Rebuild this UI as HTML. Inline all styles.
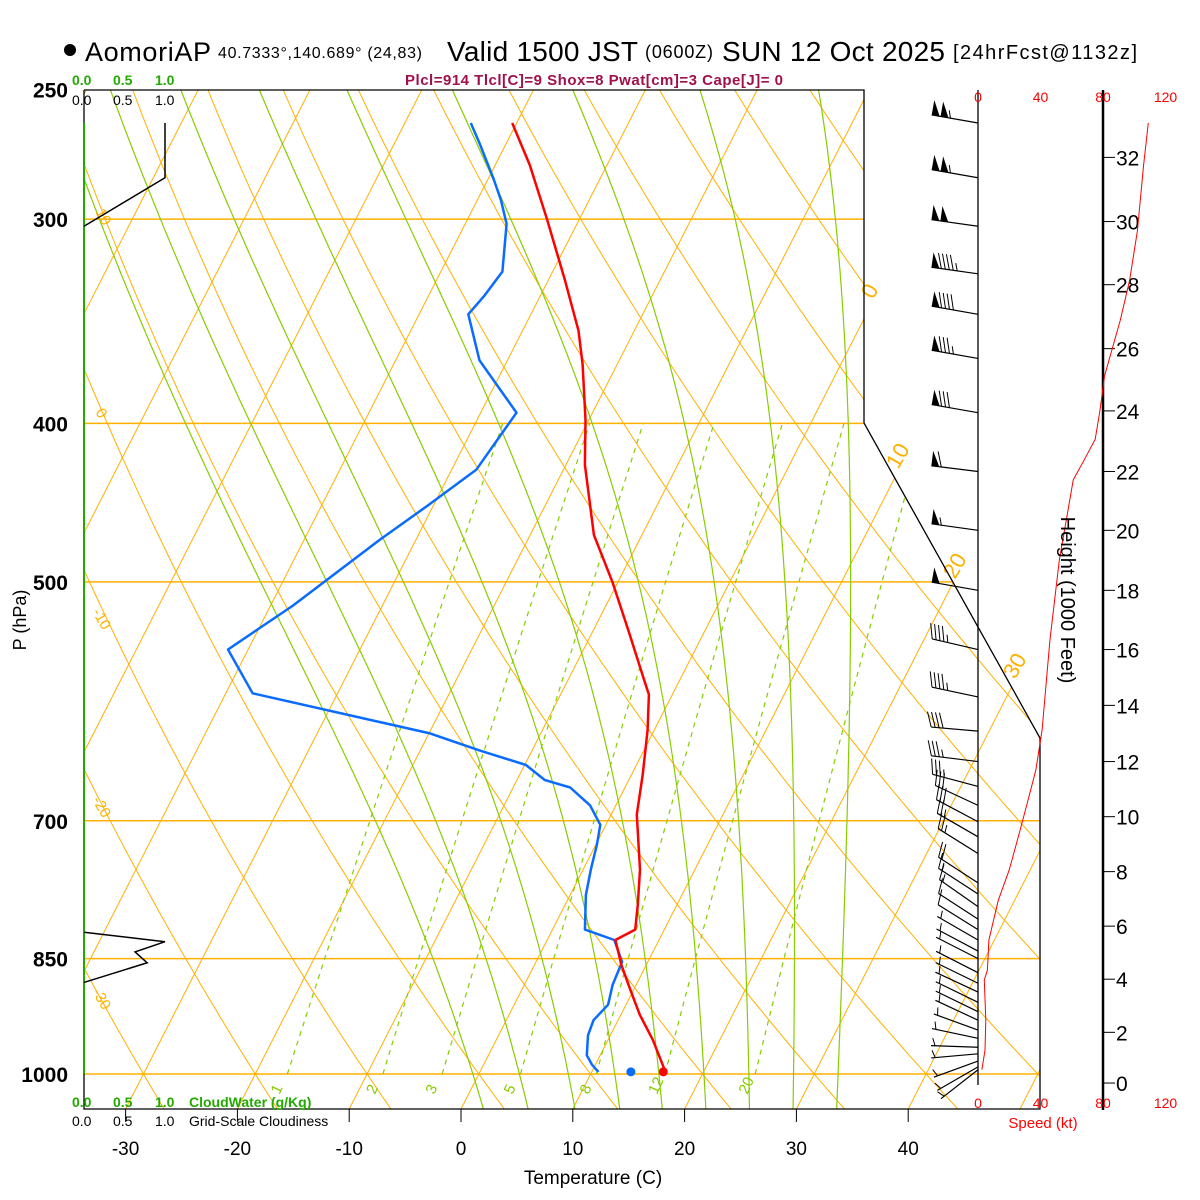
<!DOCTYPE html>
<html><head><meta charset="utf-8">
<style>
html,body{margin:0;padding:0;background:#fff;}
svg{display:block;font-family:"Liberation Sans",sans-serif;}
</style></head>
<body>
<svg id="chart" width="1200" height="1200" viewBox="0 0 1200 1200" xmlns="http://www.w3.org/2000/svg">
<defs><clipPath id="plotclip"><polygon points="84,90 864,90 864,423 1040,738 1040,1109 84,1109"/></clipPath></defs>
<rect width="1200" height="1200" fill="#fff"/>
<g id="bg" clip-path="url(#plotclip)"></g>
<g id="fg"></g>
<g fill="#000">
<circle cx="70" cy="50" r="6"/>
<text x="85" y="61" font-size="27" textLength="126">AomoriAP</text>
<text x="218" y="58" font-size="16" textLength="204">40.7333°,140.689° (24,83)</text>
<text x="447" y="61" font-size="28" textLength="191">Valid 1500 JST</text>
<text x="645" y="58" font-size="18" textLength="68">(0600Z)</text>
<text x="722" y="61" font-size="28" textLength="223">SUN 12 Oct 2025</text>
<text x="953" y="59" font-size="20" textLength="184">[24hrFcst@1132z]</text>
</g>
<text x="405" y="85" font-size="15" font-weight="bold" fill="#a0104c" textLength="378">Plcl=914 Tlcl[C]=9 Shox=8 Pwat[cm]=3 Cape[J]= 0</text>
<g font-size="14" font-weight="bold" fill="#22aa00">
<text x="72" y="85">0.0</text><text x="113" y="85">0.5</text><text x="155" y="85">1.0</text></g>
<g font-size="14" fill="#000">
<text x="72" y="105">0.0</text><text x="113" y="105">0.5</text><text x="155" y="105">1.0</text></g>
<g font-size="14" font-weight="bold" fill="#22aa00">
<text x="72" y="1107">0.0</text><text x="113" y="1107">0.5</text><text x="155" y="1107">1.0</text><text x="189" y="1107">CloudWater (g/Kg)</text></g>
<g font-size="14" fill="#000">
<text x="72" y="1126">0.0</text><text x="113" y="1126">0.5</text><text x="155" y="1126">1.0</text><text x="189" y="1126">Grid-Scale Cloudiness</text></g>
<text x="593" y="1184" font-size="19" text-anchor="middle">Temperature (C)</text>
<text transform="translate(26,620) rotate(-90)" font-size="18" text-anchor="middle">P (hPa)</text>
<text transform="translate(1061,600) rotate(90)" font-size="20" text-anchor="middle">Height (1000 Feet)</text>
<text x="1043" y="1128" font-size="15" fill="#ff0000" text-anchor="middle">Speed (kt)</text>
<script>
// ---- data ----
const tempP=[997,953,920,888,858,828,816,788,750,694,656,616,586,574,535,500,468,424,398,368,351,327,300,278,262];
const tempT=[16.6,14.0,11.7,9.7,7.8,6.1,7.4,6.5,5.1,2.3,1.0,-0.6,-2.1,-3.2,-6.9,-10.5,-14.3,-18.3,-20.3,-23.1,-25.0,-28.5,-32.9,-36.9,-40.4];
const dewP=[997,987,974,947,927,907,882,854,828,816,777,750,724,704,685,668,661,647,634,619,585,550,517,471,449,427,394,379,366,343,334,323,302,292,283,270,262];
const dewT=[10.6,9.7,8.8,8.0,7.8,8.4,7.9,7.7,6.0,2.9,1.4,0.7,0.1,-0.5,-2.3,-4.9,-7.5,-9.9,-14.7,-19.9,-37.6,-41.8,-38.0,-33.2,-30.5,-27.8,-26.8,-29.8,-32.5,-35.6,-35.0,-34.5,-36.3,-37.9,-39.6,-42.3,-44.1];
const sfcT=16.4, sfcTd=13.5, sfcP=997;
const windP=[262,283,303,324,343,365,394,428,465,506,550,588,617,644,667,685,701,716,733,764,776,790,804,816,828,841,850,867,880,891,904,916,927,940,951,963,972,982,990,994];
const windDir=[280,280,278,278,280,280,280,277,278,280,283,282,275,277,285,295,298,300,302,303,303,305,303,302,300,298,297,297,296,295,296,296,295,290,282,272,265,250,240,232];
const windSpd=[107,105,102,97,90,84,78,62,57,50,46,43,41,37,34,30,29,27,24,19,16,14,11,9,7,7,6,5,5,5,5,5,5,5,5,5,5,5,5,5];
const spdP=[262,278,305,327,346,374,393,409,421,433,485,543,616,652,680,709,750,783,805,828,864,876,927,967,994];
const spdV=[109,106,102,97,91,81,78,75,68,61,52,46,41,37,32,27,20,13,10,7,6,4,5,4.5,2.5];
const cloudP1=[303,283,262];
const cloudF1=[0,1.0,1.0];
const cloudP2=[819,830,842,855,879];
const cloudF2=[0,1.0,0.63,0.78,0];
const pLevels=[250,300,400,500,700,850,1000];
const tTicks=[-30,-20,-10,0,10,20,30,40];
const spdTicks=[0,40,80,120];
const hTicks=[0,2,4,6,8,10,12,14,16,18,20,22,24,26,28,30,32];
const hTickP=[1012.8,943,875,812,752,696,644,595,550,506,465,428,393,360,329,301,275];
const mixW=[1,2,3,5,8,12,20];
const moistT0=[2,6,10.2,14.2,18,21.9,25.8,29.7,33.6];
// ---- axes ----
const NS='http://www.w3.org/2000/svg';
function yP(p){return 1074-710*Math.log(1000/p);}
function xT(T,p){return 461+11.18*T+(1109-yP(p))*0.51;}
function xS(s){return 978+s*1.5625;}
function xC(f){return 84+f*81;}
function mk(tag,attrs,parent){const e=document.createElementNS(NS,tag);for(const k in attrs)e.setAttribute(k,attrs[k]);parent.appendChild(e);return e;}
function ptsTP(Ts,Ps){return Ts.map((t,i)=>xT(t,Ps[i]).toFixed(1)+','+yP(Ps[i]).toFixed(1)).join(' ');}
const bg=document.getElementById('bg'), fg=document.getElementById('fg');
const ORANGE='#ffb000', GREEN='#88cc00';
pLevels.forEach(p=>{const l=mk('line',{x1:84,x2:1040,y1:yP(p),y2:yP(p),stroke:ORANGE,'stroke-width':1.5},bg);

});
for(let T=-120;T<=50;T+=10){const l=mk('line',{x1:xT(T,1060),y1:yP(1060),x2:xT(T,245),y2:yP(245),stroke:ORANGE,'stroke-width':1},bg);

}
for(let th=-60;th<=180;th+=10){const Ps=[],Ts=[];for(let p=1060;p>=245;p-=10){Ps.push(p);Ts.push((th+273.15)*Math.pow(p/1000,0.2857)-273.15);}
const l=mk('polyline',{points:ptsTP(Ts,Ps),fill:'none',stroke:ORANGE,'stroke-width':1},bg);

}
function es(Tc){return 6.112*Math.exp(17.67*Tc/(Tc+243.5));}
moistT0.forEach(t0=>{let T=t0+273.15;const Ps=[],Ts=[];for(let p=1050.5;p>=245;p-=2){Ps.push(p);Ts.push(T-273.15);
const e=es(T-273.15),rs=0.622*e/(p-e);const b=(287*T+2.5e6*rs)/(1004+2.5e6*2.5e6*rs*0.622/(287*T*T));T-=b/p*2;}
const l=mk('polyline',{points:ptsTP(Ts,Ps),fill:'none',stroke:GREEN,'stroke-width':1.2},bg);

});
mixW.forEach(w=>{const Ps=[],Ts=[];for(let p=1000;p>=400;p-=10){const e=w*p/(622+w),L=Math.log(e/6.112);Ps.push(p);Ts.push(243.5*L/(17.67-L));}
const l=mk('polyline',{points:ptsTP(Ts,Ps),fill:'none',stroke:GREEN,'stroke-width':1.2,'stroke-dasharray':'5,5'},bg);


const tx=mk('text',{transform:'translate('+(xT(Ts[0],1000)-8)+',1095) rotate(-65)','font-size':15,fill:GREEN},fg);tx.textContent=w;

});
[[95,212,'10'],[95,412,'0'],[92,612,'-10'],[92,800,'-20'],[92,992,'-30']].forEach(a=>{const t=mk('text',{transform:'translate('+a[0]+','+a[1]+') rotate(60)','font-size':15,fill:ORANGE},fg);t.textContent=a[2];

});
[[873,300,'0'],[898,470,'10'],[955,580,'20'],[1015,680,'30']].forEach(a=>{const t=mk('text',{transform:'translate('+a[0]+','+a[1]+') rotate(-60)','font-size':22,fill:ORANGE},fg);t.textContent=a[2];

});
let fr=mk('polyline',{points:'84,90 864,90 864,423 1040,738 1040,1109 84,1109 84,90',fill:'none',stroke:'#000','stroke-width':1.3},fg);


let gl=mk('line',{x1:84,x2:84,y1:123,y2:1074,stroke:'#22aa00','stroke-width':2},fg);


pLevels.forEach(p=>{const t=mk('text',{x:68,y:yP(p)+8,'font-size':21,'font-weight':'bold','text-anchor':'end'},fg);t.textContent=p;

});
tTicks.forEach(T=>{const x=461+11.18*T;mk('line',{x1:x,x2:x,y1:1109,y2:1122,stroke:'#000'},fg);
const t=mk('text',{x:x,y:1155,'font-size':19,'text-anchor':'middle'},fg);t.textContent=T;

});
[[cloudF1,cloudP1],[cloudF2,cloudP2]].forEach(c=>{const l=mk('polyline',{points:c[0].map((f,i)=>xC(f)+','+yP(c[1][i])).join(' '),fill:'none',stroke:'#000','stroke-width':1.5},fg);

});
mk('line',{x1:84,x2:84,y1:90,y2:123,stroke:'#000'},fg);
let tl=mk('polyline',{points:ptsTP(dewT,dewP),fill:'none',stroke:'#0a6cff','stroke-width':2.5,'stroke-linejoin':'round'},fg);


tl=mk('polyline',{points:ptsTP(tempT,tempP),fill:'none',stroke:'#ff0000','stroke-width':2.5,'stroke-linejoin':'round'},fg);


let dt=mk('circle',{cx:xT(sfcTd,sfcP),cy:yP(sfcP),r:4.5,fill:'#0a6cff'},fg);


dt=mk('circle',{cx:xT(sfcT,sfcP),cy:yP(sfcP),r:4.5,fill:'#ff0000'},fg);


mk('line',{x1:978,x2:978,y1:90,y2:1085,stroke:'#000','stroke-width':1.3},fg);
mk('line',{x1:1103,x2:1103,y1:90,y2:1110,stroke:'#000','stroke-width':2.5},fg);
spdTicks.forEach(s=>{[102,1108].forEach(y=>{const t=mk('text',{x:xS(s),y:y,'font-size':14,fill:'#ff0000','text-anchor':'middle'},fg);t.textContent=s;

});});
hTicks.forEach((h,i)=>{const y=yP(hTickP[i]);mk('line',{x1:1103,x2:1115,y1:y,y2:y,stroke:'#000'},fg);
const t=mk('text',{x:1116,y:y+8,'font-size':21},fg);t.textContent=h;

});
let sl=mk('polyline',{points:spdV.map((v,i)=>xS(v).toFixed(1)+','+yP(spdP[i]).toFixed(1)).join(' '),fill:'none',stroke:'#ff0000','stroke-width':1},fg);


windP.forEach((p,i)=>{const d=windDir[i]*Math.PI/180,L=47;const ux=Math.sin(d),uy=-Math.cos(d);const vx=-uy,vy=ux;
const bx=978,by=yP(p);const tx=bx+ux*L,ty=by+uy*L;
const g=mk('g',{},fg);


mk('line',{x1:bx,y1:by,x2:tx,y2:ty,stroke:'#000','stroke-width':1.2},g);
let s=Math.round(windSpd[i]/5)*5;let pos=0;const BL=15;
while(s>=50){const px=tx-ux*pos,py=ty-uy*pos;mk('polygon',{points:px+','+py+' '+(px+vx*BL)+','+(py+vy*BL)+' '+(px-ux*8)+','+(py-uy*8),fill:'#000'},g);pos+=9;s-=50;}
if(pos>0)pos+=1;
while(s>=10){const px=tx-ux*pos,py=ty-uy*pos;mk('line',{x1:px,y1:py,x2:px+vx*BL+ux*5,y2:py+vy*BL+uy*5,stroke:'#000','stroke-width':1},g);pos+=4;s-=10;}
if(s>=5){if(pos===0)pos=4;const px=tx-ux*pos,py=ty-uy*pos;mk('line',{x1:px,y1:py,x2:px+vx*BL/2+ux*2.5,y2:py+vy*BL/2+uy*2.5,stroke:'#000','stroke-width':1},g);}
});
</script>
</svg>
</body></html>
